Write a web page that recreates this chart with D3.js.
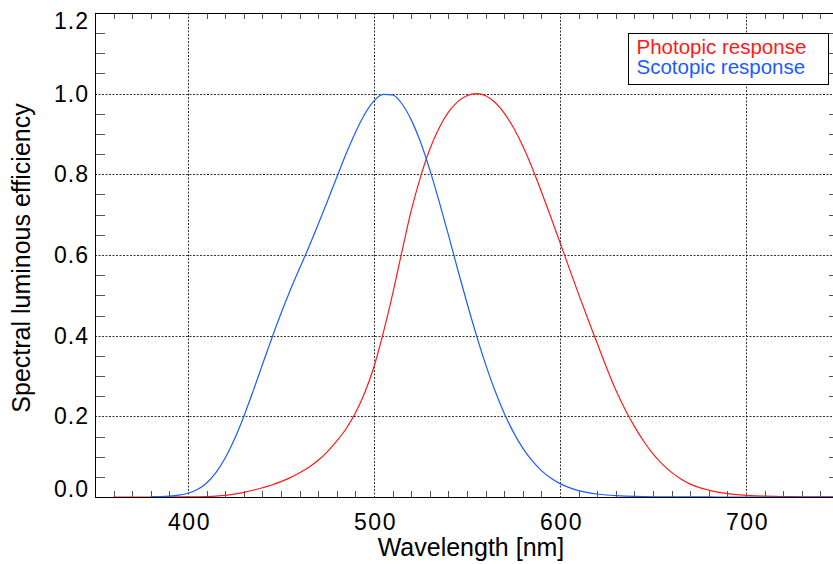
<!DOCTYPE html>
<html>
<head>
<meta charset="utf-8">
<script src="https://cdn.jsdelivr.net/npm/d3@7"></script>
<style>
  body { margin: 0; background: #fff; }
  svg { display: block; font-family: "Liberation Sans", Arial, Helvetica, sans-serif; }
</style>
</head>
<body>
<div id="chart"></div>
<script>
// wavelengths in nm (5 nm steps)
var wavelengths = [360, 365, 370, 375, 380, 385, 390, 395, 400, 405, 410, 415, 420, 425, 430, 435, 440, 445, 450, 455,
  460, 465, 470, 475, 480, 485, 490, 495, 500, 505, 510, 515, 520, 525, 530, 535, 540, 545, 550, 555,
  560, 565, 570, 575, 580, 585, 590, 595, 600, 605, 610, 615, 620, 625, 630, 635, 640, 645, 650, 655,
  660, 665, 670, 675, 680, 685, 690, 695, 700, 705, 710, 715, 720, 725, 730, 735, 740, 745, 750, 755,
  760, 765, 770, 775, 780];

// CIE photopic V(lambda)
var photopic = [0.0000039, 0.000007, 0.0000122, 0.0000218, 0.000039, 0.000064, 0.00012, 0.000217, 0.000396, 0.00064,
  0.00121, 0.00218, 0.004, 0.0073, 0.0116, 0.01684, 0.023, 0.0298, 0.038, 0.048,
  0.06, 0.0739, 0.09098, 0.1126, 0.13902, 0.1693, 0.20802, 0.2586, 0.323, 0.4073,
  0.503, 0.6082, 0.71, 0.7932, 0.862, 0.91485, 0.954, 0.9803, 0.99495, 1.0,
  0.995, 0.9786, 0.952, 0.9154, 0.87, 0.8163, 0.757, 0.6949, 0.631, 0.5668,
  0.503, 0.4412, 0.381, 0.321, 0.265, 0.217, 0.175, 0.1382, 0.107, 0.0816,
  0.061, 0.04458, 0.032, 0.0232, 0.017, 0.01192, 0.00821, 0.005723, 0.0041, 0.002929,
  0.002091, 0.001484, 0.001047, 0.00074, 0.00052, 0.000361, 0.000249, 0.000172, 0.00012, 0.0000848,
  0.00006, 0.0000424, 0.00003, 0.0000212, 0.000015];

// CIE scotopic V'(lambda), starts at 380 nm
var scotopic = [null, null, null, null, 0.000589, 0.001108, 0.002209, 0.00453, 0.00929, 0.01852,
  0.03484, 0.0604, 0.0966, 0.1436, 0.1998, 0.2625, 0.3281, 0.3931, 0.455, 0.513,
  0.567, 0.62, 0.676, 0.734, 0.793, 0.851, 0.904, 0.949, 0.982, 0.998,
  0.997, 0.975, 0.935, 0.88, 0.811, 0.733, 0.65, 0.564, 0.481, 0.402,
  0.3288, 0.2639, 0.2076, 0.1602, 0.1212, 0.0899, 0.0655, 0.0469, 0.03315, 0.02312,
  0.01593, 0.01088, 0.00737, 0.00497, 0.003335, 0.002235, 0.001497, 0.001005, 0.000677, 0.000459,
  0.000313, 0.000215, 0.000148, 0.000103, 0.000072, 0.00005, 0.0000353, 0.000025, 0.0000178, 0.0000127,
  0.00000914, 0.0000066, 0.00000478, 0.00000347, 0.00000254, 0.00000186, 0.00000137, 0.00000101, 0.00000075, 0.00000056,
  0.00000042, 0.00000032, 0.00000024, 0.00000018, 0.00000014];

var xTicks = [400, 500, 600, 700];
var yTicks = [0.0, 0.2, 0.4, 0.6, 0.8, 1.0, 1.2];
var seriesNames = ["Photopic response", "Scotopic response"];
var seriesColors = ["#ff1a1a", "#1a5cff"];

var W = 833, H = 564;
var m = { left: 95, right: 839, top: 13, bottom: 497 };

var svg = d3.select('#chart').append('svg')
  .attr('width', W)
  .attr('height', H);

var x = d3.scaleLinear().domain([350, 750]).range([m.left, m.right]);
var y = d3.scaleLinear().domain([0, 1.2]).range([m.bottom, m.top]);

svg.append('clipPath').attr('id', 'clip')
  .append('rect')
  .attr('x', m.left).attr('y', m.top - 2)
  .attr('width', m.right - m.left).attr('height', m.bottom - m.top + 2);

// dotted grid
var grid = svg.append('g').attr('stroke', '#333').attr('stroke-width', 1).attr('stroke-dasharray', '2,1.5');
grid.selectAll('.gx').data(xTicks).enter().append('line')
  .attr('x1', d => x(d) + 0.5).attr('x2', d => x(d) + 0.5)
  .attr('y1', m.top).attr('y2', m.bottom);
grid.selectAll('.gy').data(yTicks.slice(1, -1)).enter().append('line')
  .attr('x1', m.left).attr('x2', m.right)
  .attr('y1', d => Math.round(y(d)) + 0.5).attr('y2', d => Math.round(y(d)) + 0.5);

// minor ticks on all four sides
var xMinor = d3.range(360, 750, 10).filter(d => d % 100 !== 0);
var yMinor = d3.range(0.05, 1.2, 0.05).filter(d => Math.abs(d * 5 - Math.round(d * 5)) > 1e-6);
var ticks = svg.append('g').attr('stroke', '#555').attr('stroke-width', 1);
ticks.selectAll('.xb').data(xMinor).enter().append('line')
  .attr('x1', d => Math.round(x(d)) + 0.5).attr('x2', d => Math.round(x(d)) + 0.5)
  .attr('y1', m.bottom).attr('y2', m.bottom - 6);
ticks.selectAll('.xt').data(xMinor).enter().append('line')
  .attr('x1', d => Math.round(x(d)) + 0.5).attr('x2', d => Math.round(x(d)) + 0.5)
  .attr('y1', m.top).attr('y2', m.top + 6);
ticks.selectAll('.yl').data(yMinor).enter().append('line')
  .attr('x1', m.left).attr('x2', m.left + 10)
  .attr('y1', d => Math.round(y(d)) + 0.5).attr('y2', d => Math.round(y(d)) + 0.5);
ticks.selectAll('.yr').data(yMinor).enter().append('line')
  .attr('x1', m.right).attr('x2', m.right - 10)
  .attr('y1', d => Math.round(y(d)) + 0.5).attr('y2', d => Math.round(y(d)) + 0.5);

// curves
var rows = wavelengths.map((w, i) => ({ w: w, p: photopic[i], s: scotopic[i] }));
var lineP = d3.line().x(d => x(d.w)).y(d => y(d.p)).curve(d3.curveMonotoneX);
var lineS = d3.line().defined(d => d.s !== null).x(d => x(d.w)).y(d => y(d.s)).curve(d3.curveMonotoneX);
var curves = svg.append('g').attr('clip-path', 'url(#clip)').attr('fill', 'none').attr('stroke-width', 1.2);
curves.append('path').datum(rows).attr('stroke', seriesColors[0]).attr('d', lineP);
curves.append('path').datum(rows).attr('stroke', seriesColors[1]).attr('d', lineS);

// frame
svg.append('rect')
  .attr('x', m.left + 0.5).attr('y', m.top + 0.5)
  .attr('width', m.right - m.left).attr('height', m.bottom - m.top)
  .attr('fill', 'none').attr('stroke', '#000').attr('stroke-width', 1);

// tick labels
svg.selectAll('.xl').data(xTicks).enter().append('text')
  .attr('x', d => x(d) + 1.5).attr('y', 530)
  .attr('text-anchor', 'middle')
  .style('font-size', '23px').style('letter-spacing', '1.5px')
  .text(d => d);
svg.selectAll('.yl').data(yTicks).enter().append('text')
  .attr('x', 89)
  .attr('y', (d, i) => i === 0 ? m.bottom : (i === yTicks.length - 1 ? m.top + 15.5 : y(d) + 8))
  .attr('text-anchor', 'end')
  .style('font-size', '23px').style('letter-spacing', '1px')
  .text(d => d.toFixed(1));

// axis titles
svg.append('text')
  .attr('x', (m.left + 833) / 2 + 7).attr('y', 556)
  .attr('text-anchor', 'middle')
  .style('font-size', '25px')
  .text('Wavelength [nm]');
svg.append('text')
  .attr('transform', 'translate(30,258) rotate(-90)')
  .attr('text-anchor', 'middle')
  .style('font-size', '25px')
  .text('Spectral luminous efficiency');

// legend
var lg = svg.append('g');
lg.append('rect')
  .attr('x', 628.5).attr('y', 33.5).attr('width', 200).attr('height', 51)
  .attr('fill', '#fff').attr('stroke', '#000').attr('stroke-width', 1);
lg.selectAll('text').data(seriesNames).enter().append('text')
  .attr('x', 636.5).attr('y', (d, i) => 53.5 + i * 20.7)
  .style('font-size', '20.5px')
  .attr('fill', (d, i) => seriesColors[i])
  .text(d => d);
</script>
</body>
</html>
